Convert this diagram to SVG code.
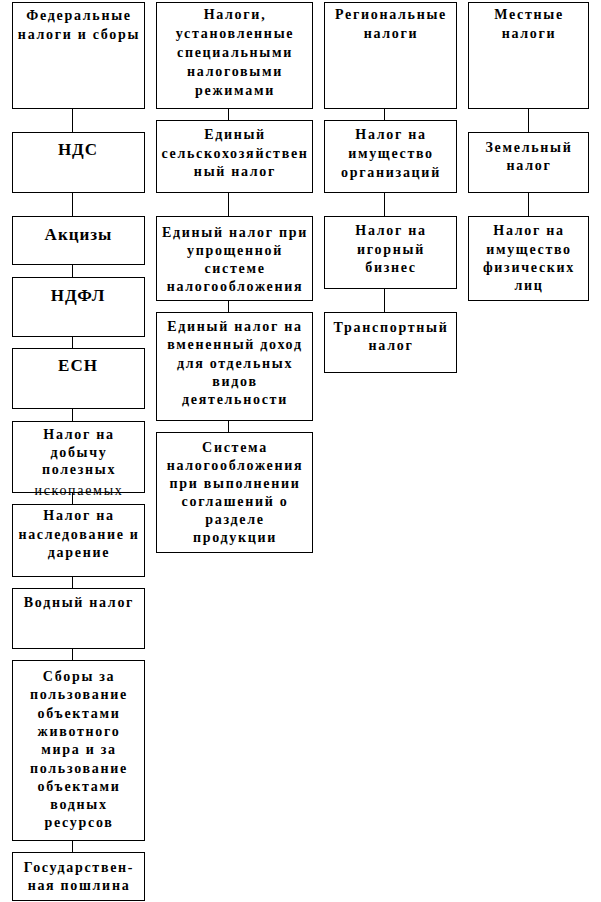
<svg xmlns="http://www.w3.org/2000/svg" width="601" height="902" viewBox="0 0 601 902">
<style>
.b{fill:#fff;stroke:#000;stroke-width:1}
.t{font-family:'Liberation Serif','DejaVu Serif',serif;font-weight:700;font-size:14px;letter-spacing:1.7px;text-anchor:middle;fill:#000}
.L{font-size:17px;letter-spacing:1px}
.r{font-weight:400}
.c{stroke:#000;stroke-width:1;fill:none}
</style>
<rect width="601" height="902" fill="#fff"/>
<g id="connectors">
<path class="c" d="M72.5 108V132M72.5 192V216M72.5 264V277M72.5 336V348M72.5 408V421M72.5 492V504M72.5 576V588M72.5 648V660M72.5 840V852"/>
<path class="c" d="M228.5 108V120M228.5 192V216M228.5 300V312M228.5 420V432"/>
<path class="c" d="M384.5 108V120M384.5 192V216M384.5 288V312"/>
<path class="c" d="M528.5 108V132M528.5 192V216"/>
</g>
<g id="fed"><rect class="b" x="12.5" y="2.5" width="132" height="106"/><text class="t"><tspan x="79" y="20">Федеральные</tspan><tspan x="79" y="39">налоги и сборы</tspan></text></g>
<g id="nds"><rect class="b" x="12.5" y="132.5" width="132" height="60"/><text class="t L" x="78" y="155">НДС</text></g>
<g id="akcizy"><rect class="b" x="12.5" y="216.5" width="132" height="48"/><text class="t L" x="78.5" y="240">Акцизы</text></g>
<g id="ndfl"><rect class="b" x="12.5" y="277.5" width="132" height="59"/><text class="t L" x="78" y="301">НДФЛ</text></g>
<g id="esn"><rect class="b" x="12.5" y="348.5" width="132" height="60"/><text class="t L" x="78" y="371">ЕСН</text></g>
<g id="dobycha"><rect class="b" x="12.5" y="421.5" width="132" height="71"/><text class="t"><tspan x="79" y="439">Налог на</tspan><tspan x="79" y="456.5">добычу</tspan><tspan x="79" y="474">полезных</tspan></text><text class="t r" x="79" y="495">ископаемых</text></g>
<g id="nasled"><rect class="b" x="12.5" y="504.5" width="132" height="72"/><text class="t"><tspan x="79" y="520">Налог на</tspan><tspan x="79" y="538.5">наследование и</tspan><tspan x="79" y="557">дарение</tspan></text></g>
<g id="vodny"><rect class="b" x="12.5" y="588.5" width="132" height="60"/><text class="t" x="79" y="607">Водный налог</text></g>
<g id="sbory"><rect class="b" x="12.5" y="660.5" width="132" height="180"/><text class="t"><tspan x="79" y="681">Сборы за</tspan><tspan x="79" y="699.3">пользование</tspan><tspan x="79" y="717.6">объектами</tspan><tspan x="79" y="735.9">животного</tspan><tspan x="79" y="754.2">мира и за</tspan><tspan x="79" y="772.5">пользование</tspan><tspan x="79" y="790.8">объектами</tspan><tspan x="79" y="809.1">водных</tspan><tspan x="79" y="827.4">ресурсов</tspan></text></g>
<g id="gosposhlina"><rect class="b" x="12.5" y="852.5" width="132" height="48"/><text class="t"><tspan x="79" y="872">Государствен-</tspan><tspan x="79" y="890">ная пошлина</tspan></text></g>

<g id="spec"><rect class="b" x="156.5" y="2.5" width="156" height="106"/><text class="t"><tspan x="235" y="19">Налоги,</tspan><tspan x="235" y="38">установленные</tspan><tspan x="235" y="57">специальными</tspan><tspan x="235" y="76">налоговыми</tspan><tspan x="235" y="94.5">режимами</tspan></text></g>
<g id="eshn"><rect class="b" x="156.5" y="120.5" width="156" height="72"/><text class="t"><tspan x="235" y="139">Единый</tspan><tspan x="235" y="157.5">сельскохозяйствен</tspan><tspan x="235" y="176">ный налог</tspan></text></g>
<g id="usn"><rect class="b" x="156.5" y="216.5" width="156" height="84"/><text class="t"><tspan x="235" y="237">Единый налог при</tspan><tspan x="235" y="255">упрощенной</tspan><tspan x="235" y="273">системе</tspan><tspan x="235" y="291">налогообложения</tspan></text></g>
<g id="envd"><rect class="b" x="156.5" y="312.5" width="156" height="108"/><text class="t"><tspan x="235" y="331">Единый налог на</tspan><tspan x="235" y="349">вмененный доход</tspan><tspan x="235" y="367.5">для отдельных</tspan><tspan x="235" y="386">видов</tspan><tspan x="235" y="404">деятельности</tspan></text></g>
<g id="srp"><rect class="b" x="156.5" y="432.5" width="156" height="120"/><text class="t"><tspan x="235" y="452">Система</tspan><tspan x="235" y="470">налогообложения</tspan><tspan x="235" y="488">при выполнении</tspan><tspan x="235" y="506">соглашений о</tspan><tspan x="235" y="524">разделе</tspan><tspan x="235" y="542">продукции</tspan></text></g>

<g id="reg"><rect class="b" x="324.5" y="2.5" width="132" height="106"/><text class="t"><tspan x="391" y="19">Региональные</tspan><tspan x="391" y="38">налоги</tspan></text></g>
<g id="imorg"><rect class="b" x="324.5" y="120.5" width="132" height="72"/><text class="t"><tspan x="391" y="139">Налог на</tspan><tspan x="391" y="158">имущество</tspan><tspan x="391" y="177">организаций</tspan></text></g>
<g id="igorny"><rect class="b" x="324.5" y="216.5" width="132" height="72"/><text class="t"><tspan x="391" y="235">Налог на</tspan><tspan x="391" y="254">игорный</tspan><tspan x="391" y="272">бизнес</tspan></text></g>
<g id="transport"><rect class="b" x="324.5" y="312.5" width="132" height="60"/><text class="t"><tspan x="391" y="332">Транспортный</tspan><tspan x="391" y="350">налог</tspan></text></g>

<g id="mest"><rect class="b" x="468.5" y="2.5" width="120" height="106"/><text class="t"><tspan x="529" y="19">Местные</tspan><tspan x="529" y="38">налоги</tspan></text></g>
<g id="zemel"><rect class="b" x="468.5" y="132.5" width="120" height="60"/><text class="t"><tspan x="529" y="152">Земельный</tspan><tspan x="529" y="170">налог</tspan></text></g>
<g id="imfiz"><rect class="b" x="468.5" y="216.5" width="120" height="84"/><text class="t"><tspan x="529" y="235">Налог на</tspan><tspan x="529" y="254">имущество</tspan><tspan x="529" y="272">физических</tspan><tspan x="529" y="290">лиц</tspan></text></g>
</svg>
